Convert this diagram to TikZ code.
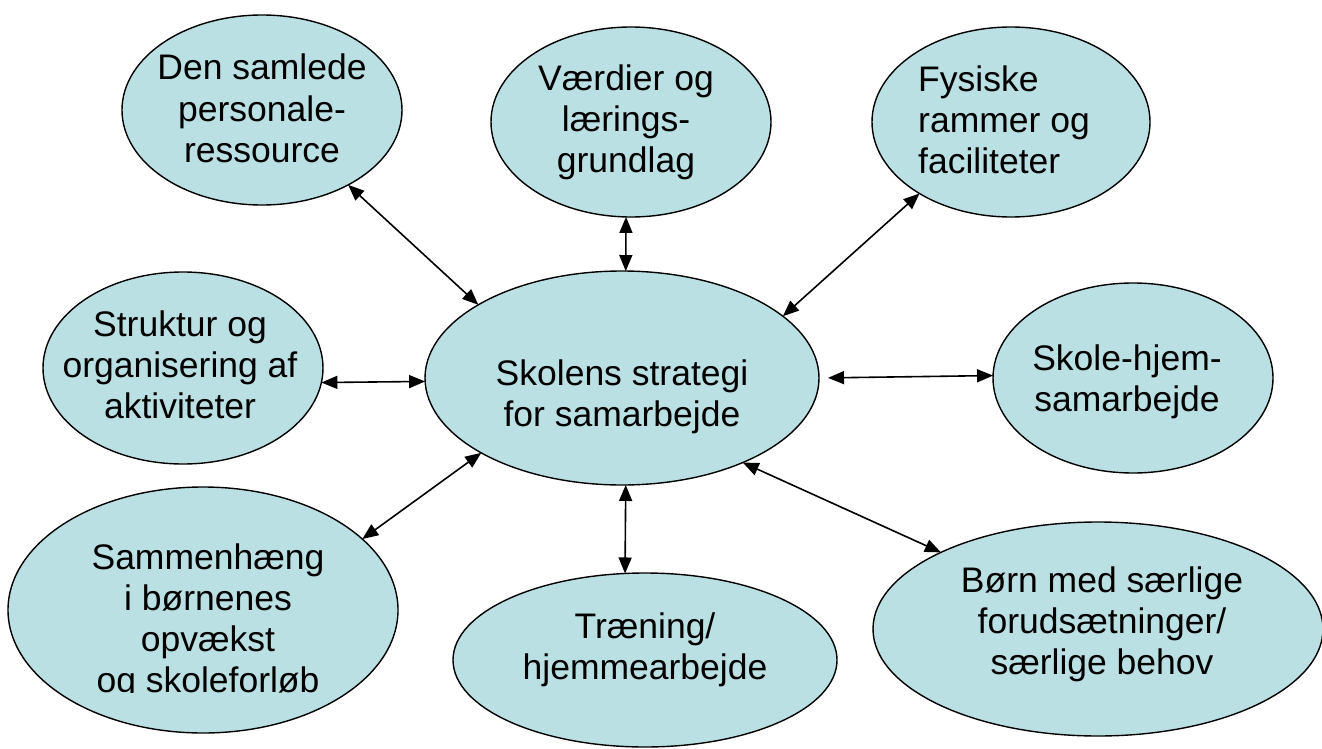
\documentclass[tikz,border=0pt]{standalone}
\usepackage{fontspec}
\setmainfont{Liberation Sans}
\usetikzlibrary{arrows.meta,shapes.geometric}
\definecolor{bubble}{RGB}{187,224,227}
\newcommand{\sst}{\rule[-8pt]{0pt}{34pt}}
\begin{document}
\begin{tikzpicture}[x=1pt,y=-1pt,
  bub/.style={ellipse, draw=black, line width=1.4pt, fill=bubble, inner sep=0pt, outer sep=0pt},
  lbl/.style={inner sep=0pt, align=center, font=\fontsize{35.5}{41}\selectfont},
  link/.style={{Triangle[length=16pt,width=13pt]}-{Triangle[length=16pt,width=13pt]}, line width=1.6pt}]
\useasboundingbox (0,0) rectangle (1322,749);
% ellipses
\node[bub, minimum width=280pt, minimum height=190pt] (res) at (262,110) {};
\node[bub, minimum width=280pt, minimum height=190pt] (vaer) at (631,122) {};
\node[bub, minimum width=278pt, minimum height=190pt] (fys) at (1011,122) {};
\node[bub, minimum width=280pt, minimum height=192pt] (str) at (183,368) {};
\node[bub, minimum width=394pt, minimum height=214pt] (sko) at (622,378) {};
\node[bub, minimum width=280pt, minimum height=190pt] (hjem) at (1133,378) {};
\node[bub, minimum width=390pt, minimum height=246pt] (sam) at (203,610) {};
\node[bub, minimum width=384pt, minimum height=174pt] (trae) at (645,660) {};
\node[bub, minimum width=450pt, minimum height=214pt] (boern) at (1098,629) {};
% texts
\node[lbl] (tres) at (262,112) {\sst Den samlede\\\sst personale-\\\sst ressource};
\node[lbl] (tvaer) at (626,122) {\sst Værdier og\\\sst lærings-\\\sst grundlag};
\node[lbl, align=left, anchor=west] (tfys) at (918,123) {\sst Fysiske\\\sst rammer og\\\sst faciliteter};
\node[lbl] (tstr) at (180,368) {\sst Struktur og\\\sst organisering af\\\sst aktiviteter};
\node[lbl] (tsko) at (622,397) {\sst Skolens strategi\\\sst for samarbejde};
\node[lbl] (thjem) at (1127,382) {\sst Skole-hjem-\\\sst samarbejde};
\begin{scope}
\clip (0,0) rectangle (1322,692);
\node[lbl] (tsam) at (208,622) {\sst Sammenhæng\\\sst i børnenes\\\sst opvækst\\\sst og skoleforløb};
\end{scope}
\node[lbl] (ttrae) at (645,650) {\sst Træning/\\\sst hjemmearbejde};
\node[lbl] (tboern) at (1102,624) {\sst Børn med særlige\\\sst forudsætninger/\\\sst særlige behov};
% connectors
\draw[link] (res.-41.1) -- (sko.153.1);
\draw[link] (vaer.-93.6) -- (sko.88.4);
\draw[link] (fys.-142) -- (sko.21.4);
\draw[link] (str.-6.5) -- (sko.181.7);
\draw[link, shorten <=9pt] (sko.0.5) -- (hjem.179.2);
\draw[link] (sam.24.3) -- (sko.-152.5);
\draw[link] (sko.-88.4) -- (trae.103.2);
\draw[link] (sko.-35.8) -- (boern.154.4);
\end{tikzpicture}
\end{document}
